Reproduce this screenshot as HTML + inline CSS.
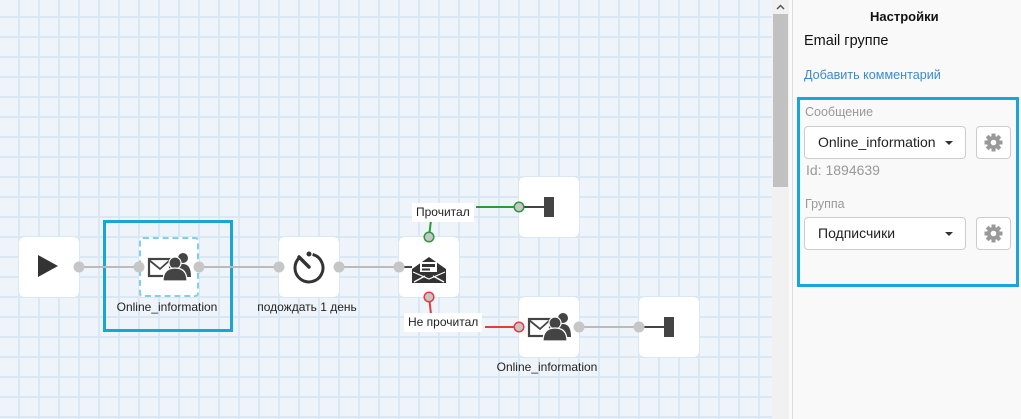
<!DOCTYPE html>
<html><head><meta charset="utf-8">
<style>
*{margin:0;padding:0;box-sizing:border-box}
html,body{width:1021px;height:419px;overflow:hidden;background:#fff;font-family:"Liberation Sans",Arial,sans-serif}
#canvas{position:absolute;left:0;top:0;width:772px;height:419px;background-color:#eef4f9;
background-image:linear-gradient(to right,#dae8f3 0,#dae8f3 2px,transparent 2px),linear-gradient(to bottom,#dae8f3 0,#dae8f3 2px,transparent 2px);
background-size:20px 20px;background-position:18px 16px}
.node{position:absolute;width:60px;height:60px;background:#fff;border-radius:6px}
.lbl{position:absolute;font-size:12px;color:#222;white-space:nowrap;transform:translateX(-50%)}
.tag{position:absolute;background:#fff;font-size:12px;color:#222;padding:0 4px;line-height:19px;white-space:nowrap}
#scroll{position:absolute;left:772px;top:0;width:17px;height:419px;background:#f1f1f1}
#thumb{position:absolute;left:1px;top:14px;width:15px;height:173px;background:#c1c1c1}
#sep{position:absolute;left:789px;top:0;width:4px;height:419px;background:#fafafa;border-right:1px solid #ddd}
#panel{position:absolute;left:793px;top:0;width:228px;height:419px;background:#f9f9f9}
.sel{position:absolute;left:804px;width:162px;height:33px;background:#fff;border:1px solid #ccc;border-radius:4px;font-size:14px;color:#222;padding-left:13px;line-height:31px}
.caret{position:absolute;left:140px;top:14px;width:0;height:0;border-left:4px solid transparent;border-right:4px solid transparent;border-top:4px solid #333}
.gear{position:absolute;left:976px;width:35px;height:33px;background:#fff;border:1px solid #ccc;border-radius:4px}
.gl{position:absolute;left:805px;font-size:12.5px;color:#999}
</style></head><body>
<div id="canvas">
  <div class="node" style="left:19px;top:237px"></div>
  <div class="node" style="left:139px;top:237px;border:2px dashed #7fd0ec;border-radius:4px"></div>
  <div class="node" style="left:279px;top:237px"></div>
  <div class="node" style="left:399px;top:237px"></div>
  <div class="node" style="left:519px;top:177px"></div>
  <div class="node" style="left:519px;top:297px"></div>
  <div class="node" style="left:639px;top:297px"></div>
  <div style="position:absolute;left:103px;top:220px;width:130px;height:112px;border:3px solid #18a5dc"></div>
  <svg width="772" height="419" style="position:absolute;left:0;top:0">
    <g stroke="#bbb" stroke-width="2" fill="none">
      <line x1="79" y1="267" x2="139" y2="267"/>
      <line x1="199" y1="267" x2="279" y2="267"/>
      <line x1="339" y1="267" x2="399" y2="267"/>
      <line x1="579" y1="327" x2="639" y2="327"/>
    </g>
    <path d="M429 237 L431 220" stroke="#2a9a3a" stroke-width="2" fill="none"/>
    <path d="M476 207 L519 207" stroke="#2a9a3a" stroke-width="2" fill="none"/>
    <path d="M429 297 L431 314" stroke="#e23c3c" stroke-width="2" fill="none"/>
    <path d="M485 327 L519 327" stroke="#e23c3c" stroke-width="2" fill="none"/>
    <line x1="519" y1="207" x2="545" y2="207" stroke="#444" stroke-width="2"/>
    <rect x="544" y="197" width="10" height="20" fill="#444"/>
    <line x1="639" y1="327" x2="665" y2="327" stroke="#444" stroke-width="2"/>
    <rect x="664" y="317" width="10" height="20" fill="#444"/>
    <line x1="404" y1="267" x2="412" y2="267" stroke="#444" stroke-width="2"/>
    <g fill="#c6c6c6">
      <circle cx="79" cy="267" r="5.5"/>
      <circle cx="139" cy="267" r="5.5"/>
      <circle cx="199" cy="267" r="5.5"/>
      <circle cx="279" cy="267" r="5.5"/>
      <circle cx="339" cy="267" r="5.5"/>
      <circle cx="399" cy="267" r="5.5"/>
      <circle cx="579" cy="327" r="5.5"/>
      <circle cx="639" cy="327" r="5.5"/>
    </g>
    <circle cx="429" cy="237" r="4.8" fill="#c6c6c6" stroke="#2a9a3a" stroke-width="1.5"/>
    <circle cx="519" cy="207" r="4.8" fill="#c6c6c6" stroke="#2a9a3a" stroke-width="1.5"/>
    <circle cx="429" cy="297" r="4.8" fill="#c6c6c6" stroke="#e23c3c" stroke-width="1.5"/>
    <circle cx="519" cy="327" r="4.8" fill="#c6c6c6" stroke="#e23c3c" stroke-width="1.5"/>
    <polygon points="38,255 58,266 38,277" fill="#333"/>
    <g id="eg">
      <rect x="149" y="259" width="21" height="17" fill="none" stroke="#444" stroke-width="2.2"/>
      <polyline points="149,260 160,269 170,260" fill="none" stroke="#444" stroke-width="1.8"/>
      <circle cx="183" cy="258" r="5" fill="#444"/>
      <path d="M175 277 Q175 264 183 264 Q191 264 191 277 Z" fill="#444"/>
      <circle cx="175" cy="263" r="6" fill="#444" stroke="#fff" stroke-width="1.2"/>
      <path d="M163 281 Q163 268 175 268 Q187 268 187 281 Z" fill="#444" stroke="#fff" stroke-width="1.2"/>
    </g>
    <use href="#eg" transform="translate(380,60)"/>
    <path d="M312.6 254.4 A14 14 0 1 1 300 257.2" fill="none" stroke="#333" stroke-width="3"/>
    <circle cx="309" cy="254" r="2.5" fill="#333"/>
    <line x1="309" y1="267" x2="299" y2="257" stroke="#333" stroke-width="3.5" stroke-linecap="round"/>
    <!-- open envelope -->
    <path d="M412 269 L429 257 L446 269 L446 283 L412 283 Z" fill="#333"/>
    <rect x="420" y="262" width="17" height="10" fill="#fff"/>
    <rect x="422" y="264" width="13" height="3" fill="#333"/>
    <rect x="422" y="268.5" width="8" height="2" fill="#333"/>
    <polyline points="413,272 429,279 445,272" fill="none" stroke="#fff" stroke-width="1.1"/>
    <line x1="414" y1="282" x2="425" y2="276" stroke="#fff" stroke-width="1.3"/>
    <line x1="444" y1="282" x2="433" y2="276" stroke="#fff" stroke-width="1.3"/>
  </svg>
  <div class="tag" style="left:412px;top:203px">Прочитал</div>
  <div class="tag" style="left:404px;top:313px">Не прочитал</div>
  <div class="lbl" style="left:167px;top:300px">Online_information</div>
  <div class="lbl" style="left:307px;top:300px">подождать 1 день</div>
  <div class="lbl" style="left:547px;top:360px">Online_information</div>
</div>
<div id="scroll"><div id="thumb"></div>
  <svg width="17" height="12" style="position:absolute;left:0;top:1px"><polyline points="5,8 8.5,4.5 12,8" fill="none" stroke="#555" stroke-width="1.5"/></svg>
</div>
<div id="sep"></div>
<div id="panel"></div>
<div style="position:absolute;left:870px;top:9px;font-size:13px;font-weight:bold;color:#111">Настройки</div>
<div style="position:absolute;left:804px;top:33px;font-size:14.5px;color:#111">Email группе</div>
<div style="position:absolute;left:804px;top:68px;font-size:12.6px;color:#3b8ad0">Добавить комментарий</div>
<div style="position:absolute;left:797px;top:97px;width:222px;height:190px;border:3px solid #18a5dc"></div>
<div class="gl" style="top:105px">Сообщение</div>
<div class="sel" style="top:126px">Online_information<div class="caret"></div></div>
<div class="gear" style="top:126px"><svg width="33" height="31" viewBox="0 0 33 31"><g transform="translate(16.5,15.5)" fill="#999"><circle r="6.5"/><rect x="-2" y="-9" width="4" height="18"/><rect x="-2" y="-9" width="4" height="18" transform="rotate(45)"/><rect x="-2" y="-9" width="4" height="18" transform="rotate(90)"/><rect x="-2" y="-9" width="4" height="18" transform="rotate(135)"/><circle r="2.8" fill="#fff"/></g></svg></div>
<div class="gl" style="top:162px;left:806px;font-size:14px">Id: 1894639</div>
<div class="gl" style="top:197px">Группа</div>
<div class="sel" style="top:217px">Подписчики<div class="caret"></div></div>
<div class="gear" style="top:217px"><svg width="33" height="31" viewBox="0 0 33 31"><g transform="translate(16.5,15.5)" fill="#999"><circle r="6.5"/><rect x="-2" y="-9" width="4" height="18"/><rect x="-2" y="-9" width="4" height="18" transform="rotate(45)"/><rect x="-2" y="-9" width="4" height="18" transform="rotate(90)"/><rect x="-2" y="-9" width="4" height="18" transform="rotate(135)"/><circle r="2.8" fill="#fff"/></g></svg></div>
</body></html>
